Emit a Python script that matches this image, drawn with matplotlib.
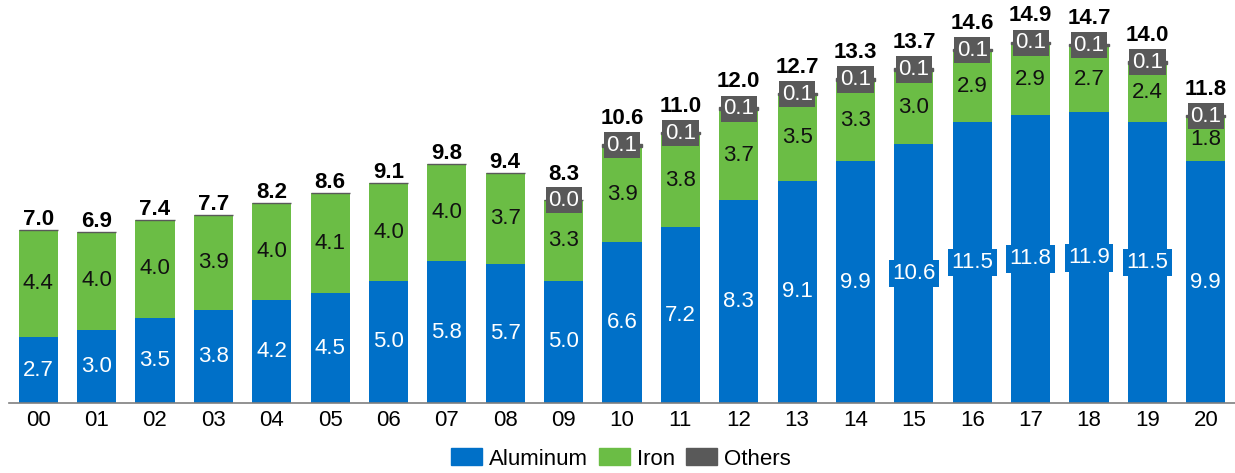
import matplotlib
matplotlib.use("Agg")
import matplotlib.pyplot as plt
import numpy as np
from matplotlib.patches import Patch

years = ["00", "01", "02", "03", "04", "05", "06", "07", "08", "09", "10",
         "11", "12", "13", "14", "15", "16", "17", "18", "19", "20"]
aluminum = [2.7, 3.0, 3.5, 3.8, 4.2, 4.5, 5.0, 5.8, 5.7, 5.0, 6.6,
            7.2, 8.3, 9.1, 9.9, 10.6, 11.5, 11.8, 11.9, 11.5, 9.9]
iron = [4.4, 4.0, 4.0, 3.9, 4.0, 4.1, 4.0, 4.0, 3.7, 3.3, 3.9,
        3.8, 3.7, 3.5, 3.3, 3.0, 2.9, 2.9, 2.7, 2.4, 1.8]
others = [0.0, 0.0, 0.0, 0.0, 0.0, 0.0, 0.0, 0.0, 0.0, 0.0, 0.1,
          0.1, 0.1, 0.1, 0.1, 0.1, 0.1, 0.1, 0.1, 0.1, 0.1]
others_labeled = [False] * 9 + [True] * 12
totals = [7.0, 6.9, 7.4, 7.7, 8.2, 8.6, 9.1, 9.8, 9.4, 8.3, 10.6,
          11.0, 12.0, 12.7, 13.3, 13.7, 14.6, 14.9, 14.7, 14.0, 11.8]

C_AL = "#0070C8"
C_IR = "#6BBD45"
C_OT = "#595959"

plt.rcParams['font.family'] = ['Liberation Sans', 'DejaVu Sans']

fig = plt.figure(figsize=(12.35, 4.73), dpi=100)
ax = fig.add_axes([9 / 1235, 70 / 473, 1 - 9 / 1235, 1 - 70 / 473])

x = np.arange(len(years))
al = np.array(aluminum)
ir = np.array(iron)
ot = np.array(others)
w = 0.67

ax.bar(x, al, w, color=C_AL)
ax.bar(x, ir, w, bottom=al, color=C_IR)
ax.bar(x, ot, w, bottom=al + ir, color=C_OT, edgecolor=C_OT, linewidth=1)

fs = 16
for i in range(len(x)):
    ax.text(x[i], al[i] / 2, f"{al[i]:.1f}", ha="center", va="center",
            color="white", fontsize=fs,
            bbox=dict(boxstyle="square,pad=0.15", fc=C_AL, ec="none"))
    ax.text(x[i], al[i] + ir[i] / 2, f"{ir[i]:.1f}", ha="center", va="center",
            color="#111111", fontsize=fs)
    top = al[i] + ir[i] + ot[i]
    if others_labeled[i]:
        ax.text(x[i], top - ot[i] / 2, f"{ot[i]:.1f}", ha="center", va="center",
                color="white", fontsize=fs,
                bbox=dict(boxstyle="square,pad=0.12", fc=C_OT, ec="none"))
        ax.annotate(f"{totals[i]:.1f}", (x[i], top), xytext=(0, 11),
                    textcoords="offset points", ha="center", va="bottom",
                    fontsize=fs, fontweight="bold", color="black")
    else:
        ax.annotate(f"{totals[i]:.1f}", (x[i], top), xytext=(0, 0),
                    textcoords="offset points", ha="center", va="bottom",
                    fontsize=fs, fontweight="bold", color="black")

ax.set_xlim(-0.5, len(x) - 0.5)
ax.set_ylim(0, 16.5)
ax.set_xticks(x)
ax.set_xticklabels(years, fontsize=fs)
ax.tick_params(axis="x", length=0, pad=5)
ax.set_yticks([])
for s in ["top", "right", "left"]:
    ax.spines[s].set_visible(False)
ax.spines["bottom"].set_color("#7F7F7F")
ax.spines["bottom"].set_linewidth(1.2)

handles = [Patch(color=C_AL, label="Aluminum"),
           Patch(color=C_IR, label="Iron"),
           Patch(color=C_OT, label="Others")]
fig.legend(handles=handles, loc="center", bbox_to_anchor=(621 / 1235, 1 - 459 / 473),
           ncol=3, frameon=False, fontsize=fs, handlelength=1.4, handleheight=0.8,
           handletextpad=0.3, columnspacing=0.5, borderpad=0)

fig.savefig("out.png", dpi=100)
